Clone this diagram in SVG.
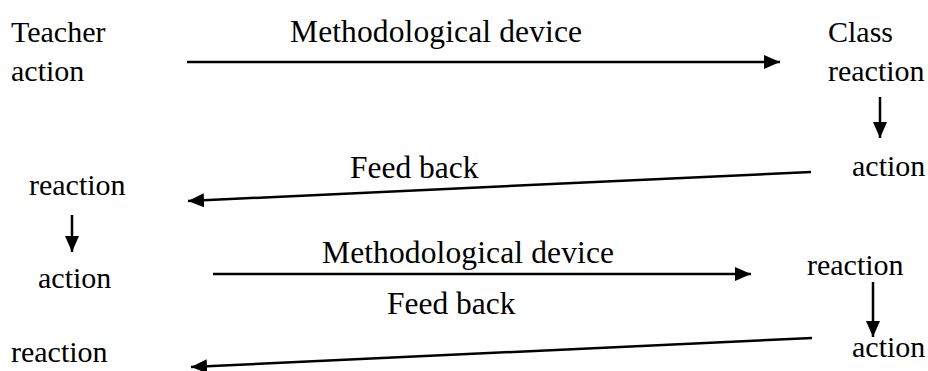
<svg xmlns="http://www.w3.org/2000/svg" width="928" height="371" viewBox="0 0 928 371">
  <style>
    .lbl { font-family: "Liberation Serif", "Times New Roman", serif; font-size: 30px; fill: #000; }
    .edge { font-family: "Liberation Serif", "Times New Roman", serif; font-size: 31.5px; fill: #000; }
    .arr { stroke: #000; stroke-width: 2.5; fill: none; marker-end: url(#head); }
  </style>
  <defs>
    <marker id="head" viewBox="0 0 16 14" refX="16" refY="7" markerWidth="16" markerHeight="14" markerUnits="userSpaceOnUse" orient="auto">
      <path d="M0,0 L16,7 L0,14 z" fill="#000"/>
    </marker>
  </defs>
  <rect width="928" height="371" fill="#fff"/>

  <!-- cycle steps -->
  <g id="teacher-action"><text class="lbl" x="11" y="42">Teacher</text><text class="lbl" x="11" y="81">action</text></g>
  <g id="class-reaction"><text class="lbl" x="828" y="42">Class</text><text class="lbl" x="828" y="81">reaction</text></g>
  <g id="class-action"><text class="lbl" x="852" y="176">action</text></g>
  <g id="teacher-reaction"><text class="lbl" x="29" y="195">reaction</text></g>
  <g id="teacher-action-2"><text class="lbl" x="38" y="288">action</text></g>
  <g id="class-reaction-2"><text class="lbl" x="807" y="275">reaction</text></g>
  <g id="class-action-2"><text class="lbl" x="852" y="357">action</text></g>
  <g id="teacher-reaction-2"><text class="lbl" x="11" y="362">reaction</text></g>

  <!-- connectors with their labels -->
  <g id="connectors">
    <line class="arr" x1="187" y1="62" x2="780" y2="62"/>
    <text class="edge" x="290" y="42" textLength="292">Methodological device</text>
    <line class="arr" x1="880" y1="97" x2="880" y2="138"/>
    <line class="arr" x1="811" y1="172" x2="188" y2="201"/>
    <text class="edge" x="350" y="178">Feed back</text>
    <line class="arr" x1="72" y1="215" x2="72" y2="252"/>
    <line class="arr" x1="213" y1="274" x2="751" y2="274"/>
    <text class="edge" x="322" y="263" textLength="292">Methodological device</text>
    <line class="arr" x1="873" y1="282" x2="873" y2="337"/>
    <line class="arr" x1="812" y1="338" x2="191" y2="367"/>
    <text class="edge" x="387" y="314">Feed back</text>
  </g>
</svg>
